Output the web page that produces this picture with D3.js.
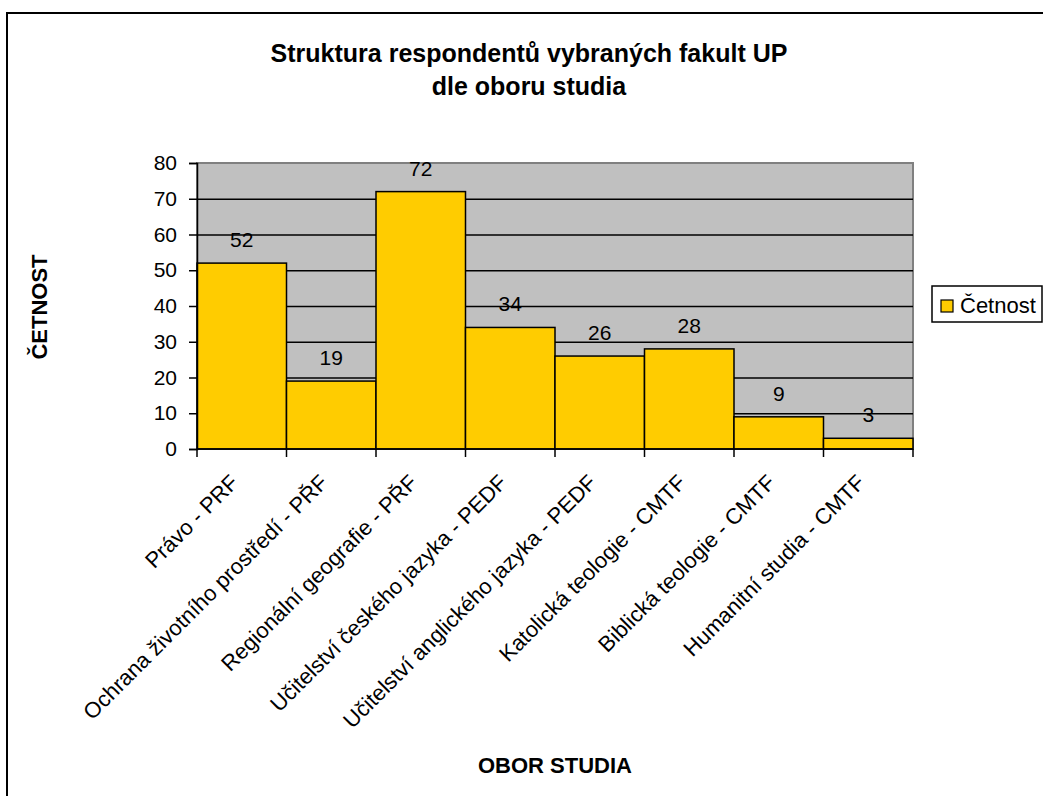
<!DOCTYPE html>
<html>
<head>
<meta charset="utf-8">
<script src="https://cdn.jsdelivr.net/npm/d3@7"></script>
<style>
  body { margin: 0; background: #fff; }
  svg text { font-family: "Liberation Sans", Arial, sans-serif; }
</style>
</head>
<body>
<div id="chart"></div>
<script>
// Data
const categories = [
  "Právo - PRF",
  "Ochrana životního prostředí - PŘF",
  "Regionální geografie - PŘF",
  "Učitelství českého jazyka - PEDF",
  "Učitelství anglického jazyka - PEDF",
  "Katolická teologie - CMTF",
  "Biblická teologie - CMTF",
  "Humanitní studia - CMTF"
];
const values = [52, 19, 72, 34, 26, 28, 9, 3];
const yTicks = [0, 10, 20, 30, 40, 50, 60, 70, 80];
const seriesName = "Četnost";
const titleLines = ["Struktura respondentů vybraných fakult UP", "dle oboru studia"];

const W = 1043, H = 796;
const margin = { top: 163, right: 130, bottom: 347, left: 197 };
const width = W - margin.left - margin.right;   // 716
const height = H - margin.top - margin.bottom;  // 286

const svg = d3.select("#chart").append("svg")
  .attr("width", W)
  .attr("height", H);

// Rámeček grafu
svg.append("rect")
  .attr("x", 7).attr("y", 13)
  .attr("width", 1100).attr("height", 900)
  .attr("fill", "#fff")
  .attr("stroke", "#000")
  .attr("stroke-width", 2);

// Nadpis
svg.selectAll(".title")
  .data(titleLines)
  .enter().append("text")
  .attr("class", "title")
  .attr("x", 529)
  .attr("y", (d, i) => 62 + i * 33)
  .attr("text-anchor", "middle")
  .style("font-size", "25px")
  .style("font-weight", "bold")
  .text(d => d);

const g = svg.append("g")
  .attr("transform", `translate(${margin.left},${margin.top})`);

const x = d3.scaleBand().domain(categories).range([0, width]).padding(0);
const y = d3.scaleLinear().domain([0, 80]).range([height, 0]);

// Pozadí plochy
g.append("rect")
  .attr("width", width).attr("height", height)
  .attr("fill", "#c0c0c0")
  .attr("stroke", "#808080")
  .attr("stroke-width", 2);

// Mřížka
g.append("g")
  .call(d3.axisLeft(y).tickValues(yTicks.slice(1, -1)).tickSize(-width).tickFormat(""))
  .call(s => s.select(".domain").remove())
  .selectAll("line")
  .attr("stroke", "#000")
  .attr("stroke-width", 1.5);

// Sloupce
g.selectAll(".bar")
  .data(values)
  .enter().append("rect")
  .attr("class", "bar")
  .attr("x", (d, i) => x(categories[i]))
  .attr("y", d => y(d))
  .attr("width", x.bandwidth())
  .attr("height", d => height - y(d))
  .attr("fill", "#ffcc00")
  .attr("stroke", "#000")
  .attr("stroke-width", 1.5);

// Hodnoty nad sloupci
g.selectAll(".label")
  .data(values)
  .enter().append("text")
  .attr("class", "label")
  .attr("x", (d, i) => x(categories[i]) + x.bandwidth() / 2)
  .attr("y", d => y(d) - 16)
  .attr("text-anchor", "middle")
  .style("font-size", "21px")
  .text(d => d);

// Osa Y
const yAxis = g.append("g")
  .call(d3.axisLeft(y).tickValues(yTicks).tickSize(8).tickPadding(12));
yAxis.selectAll("text").style("font-size", "21px").attr("fill", "#000");
yAxis.select(".domain").attr("stroke-width", 1.5);
yAxis.selectAll("line").attr("stroke-width", 1.5);

// Osa X
const xTickPos = d3.range(categories.length + 1).map(i => i * x.step());
const xAxis = g.append("g").attr("transform", `translate(0,${height})`);
xAxis.append("line")
  .attr("x1", 0).attr("x2", width)
  .attr("stroke", "#000").attr("stroke-width", 1.5);
xAxis.selectAll(".tick")
  .data(xTickPos)
  .enter().append("line")
  .attr("x1", d => d).attr("x2", d => d)
  .attr("y1", 0).attr("y2", 8)
  .attr("stroke", "#000").attr("stroke-width", 1.5);
xAxis.selectAll(".cat")
  .data(categories)
  .enter().append("text")
  .attr("class", "cat")
  .attr("text-anchor", "end")
  .attr("transform", d => `translate(${x(d) + x.bandwidth() / 2 - 2},35) rotate(-45)`)
  .style("font-size", "22px")
  .text(d => d);

// Názvy os
svg.append("text")
  .attr("transform", "translate(47,307) rotate(-90)")
  .attr("text-anchor", "middle")
  .style("font-size", "22px")
  .style("font-weight", "bold")
  .text("ČETNOST");

svg.append("text")
  .attr("x", 555).attr("y", 773)
  .attr("text-anchor", "middle")
  .style("font-size", "22px")
  .style("font-weight", "bold")
  .text("OBOR STUDIA");

// Legenda
const legend = svg.append("g").attr("transform", "translate(932,286)");
legend.append("rect")
  .attr("width", 110).attr("height", 36)
  .attr("fill", "#fff").attr("stroke", "#000").attr("stroke-width", 1.5);
legend.append("rect")
  .attr("x", 9).attr("y", 14).attr("width", 12).attr("height", 12)
  .attr("fill", "#ffcc00").attr("stroke", "#000").attr("stroke-width", 1.2);
legend.append("text")
  .attr("x", 28).attr("y", 27)
  .style("font-size", "22px")
  .text(seriesName);
</script>
</body>
</html>
